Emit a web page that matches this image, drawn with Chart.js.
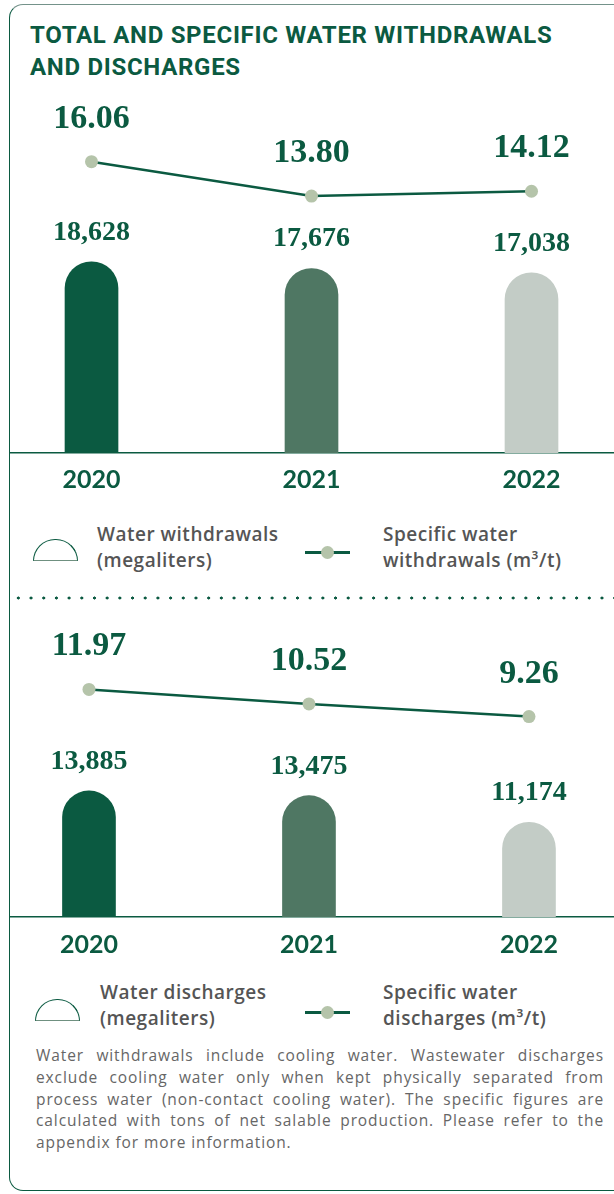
<!DOCTYPE html>
<html>
<head>
<meta charset="utf-8">
<script src="https://cdn.jsdelivr.net/npm/chart.js@4.4.1/dist/chart.umd.min.js"></script>
<style>
  html, body {
    margin: 0;
    padding: 0;
    width: 614px;
    height: 1194px;
    overflow: hidden;
    background: #fff;
    position: relative;
    font-family: 'Open Sans', sans-serif;
  }
  .frame {
    position: absolute;
    left: 9px;
    top: 4px;
    width: 700px;
    height: 1187px;
    box-sizing: border-box;
    border: 1.5px solid #0b5a41;
    border-top-color: #74928a;
    border-radius: 14px;
  }
  h1 {
    position: absolute;
    left: 30px;
    top: 19px;
    margin: 0;
    font: 700 24px/32px Roboto, sans-serif;
    letter-spacing: 0.7px;
    color: #0b5a41;
  }
  .chart { position: absolute; left: 10px; width: 604px; }
  #topChart { top: 95px; height: 412px; }
  #bottomChart { top: 610px; height: 363px; }

  .legend-text {
    position: absolute;
    font: 600 19px/26px 'Open Sans', sans-serif;
    letter-spacing: 0.5px;
    color: #555;
    margin: 0;
  }
  .dome {
    position: absolute;
    width: 45px;
    height: 22px;
    box-sizing: border-box;
    border: 1.5px solid #0b5a41;
    border-bottom-color: #6f9080;
    border-radius: 23px 23px 0 0;
  }
  .line-key {
    position: absolute;
    width: 45px;
    height: 3px;
    background: #0b5a41;
  }
  .line-key::after {
    content: '';
    position: absolute;
    left: 16px;
    top: -5px;
    width: 13px;
    height: 13px;
    border-radius: 50%;
    background: #b5c4aa;
  }
  .dots {
    position: absolute;
    left: 12px;
    top: 596px;
    width: 602px;
    height: 4px;
    background: radial-gradient(circle, #0b5a41 1.3px, transparent 1.8px) 0 0 / 12.7px 4px repeat-x;
  }
  .note {
    position: absolute;
    left: 36px;
    top: 1045px;
    width: 568px;
    font: 15.5px/21.75px 'Open Sans', sans-serif;
    letter-spacing: 0.9px;
    color: #666;
  }
  .note span { display: block; white-space: nowrap; text-align: justify; text-align-last: justify; }
  .note span:last-child { text-align-last: left; }
</style>
</head>
<body>
<div class="frame"></div>
<h1>TOTAL AND SPECIFIC WATER WITHDRAWALS<br>AND DISCHARGES</h1>

<div class="chart" id="topChart"><canvas id="withdrawalsChart"></canvas></div>

<div class="dome" style="left:33px; top:539px;"></div>
<p class="legend-text" style="left:97px; top:521px;">Water withdrawals<br>(megaliters)</p>
<div class="line-key" style="left:305px; top:551px;"></div>
<p class="legend-text" style="left:383px; top:521px;">Specific water<br>withdrawals (m³/t)</p>

<div class="dots"></div>

<div class="chart" id="bottomChart"><canvas id="dischargesChart"></canvas></div>

<div class="dome" style="left:35px; top:999px;"></div>
<p class="legend-text" style="left:100px; top:979px;">Water discharges<br>(megaliters)</p>
<div class="line-key" style="left:305px; top:1011px;"></div>
<p class="legend-text" style="left:383px; top:979px;">Specific water<br>discharges (m³/t)</p>

<div class="note">
  <span>Water withdrawals include cooling water. Wastewater discharges</span>
  <span>exclude cooling water only when kept physically separated from</span>
  <span>process water (non-contact cooling water). The specific figures are</span>
  <span>calculated with tons of net salable production. Please refer to the</span>
  <span>appendix for more information.</span>
</div>

<script>
const years = [2020, 2021, 2022];
const withdrawals = [18628, 17676, 17038];          // megaliters
const specificWithdrawals = [16.06, 13.80, 14.12];  // m3/t
const discharges = [13885, 13475, 11174];           // megaliters
const specificDischarges = [11.97, 10.52, 9.26];    // m3/t

const GREEN = '#0b5a41';
const barColors = ['#0b5a41', '#4f7763', '#c3ccc6'];

// Prints the numbers above bars and line points
const valueLabels = {
    id: 'valueLabels',
    afterDatasetsDraw(chart) {
        const ctx = chart.ctx;
        ctx.save();
        ctx.textAlign = 'center';
        ctx.textBaseline = 'alphabetic';
        ctx.fillStyle = GREEN;
        chart.data.datasets.forEach((ds, i) => {
            const isBar = ds.type === 'bar';
            ctx.font = isBar ? 'bold 28px "Liberation Serif"' : 'bold 34px "Liberation Serif"';
            chart.getDatasetMeta(i).data.forEach((el, j) => {
                const v = ds.data[j].y;
                const text = isBar ? v.toLocaleString('en-US') : v.toFixed(2);
                ctx.fillText(text, el.x, isBar ? el.y - 22 : el.y - 34);
            });
        });
        ctx.restore();
    }
};

function toPoints(values) {
    return years.map((yr, i) => ({ x: yr, y: values[i] }));
}

function renderChart(id, totals, specific, s) {
    const ctx = document.getElementById(id).getContext('2d');

    new Chart(ctx, {
        data: {
            datasets: [
                {
                    type: 'line',
                    data: toPoints(specific),
                    yAxisID: 'y2',
                    borderColor: GREEN,
                    borderWidth: 2.5,
                    pointRadius: 6.5,
                    pointBorderWidth: 0,
                    pointBackgroundColor: '#b5c4aa',
                    tension: 0,
                    clip: false
                },
                {
                    type: 'bar',
                    data: toPoints(totals),
                    yAxisID: 'y',
                    base: s.barMin,
                    backgroundColor: barColors,
                    barThickness: 53,
                    borderRadius: 100,
                    borderSkipped: 'start'
                }
            ]
        },
        options: {
            responsive: true,
            maintainAspectRatio: false,
            animation: false,
            events: [],
            layout: { autoPadding: false, padding: 0 },
            plugins: {
                legend: { display: false },
                tooltip: { enabled: false }
            },
            scales: {
                x: {
                    type: 'linear',
                    bounds: 'data',
                    offset: false,
                    min: s.xMin,
                    max: s.xMin + 2.7455,
                    grid: { display: false, drawTicks: false },
                    border: { display: true, color: GREEN, width: 1.5 },
                    afterBuildTicks: scale => { scale.ticks = years.map(v => ({ value: v })); },
                    ticks: {
                        padding: s.tickPad,
                        color: GREEN,
                        font: { family: 'Lato', size: 25, weight: 'bold' },
                        callback: v => String(v)
                    }
                },
                y: { display: false, min: s.barMin, max: s.barMax },
                y2: { display: false, min: s.lineMin, max: s.lineMax }
            }
        },
        plugins: [valueLabels]
    });
}

renderChart('withdrawalsChart', withdrawals, specificWithdrawals,
    { xMin: 2019.6295, barMin: -9000, barMax: 42749, lineMin: -3.068, lineMax: 20.438, tickPad: 12 });

renderChart('dischargesChart', discharges, specificDischarges,
    { xMin: 2019.641, barMin: 3000, barMax: 29511, lineMin: -10.699, lineMax: 19.879, tickPad: 13 });
</script>
</body>
</html>
